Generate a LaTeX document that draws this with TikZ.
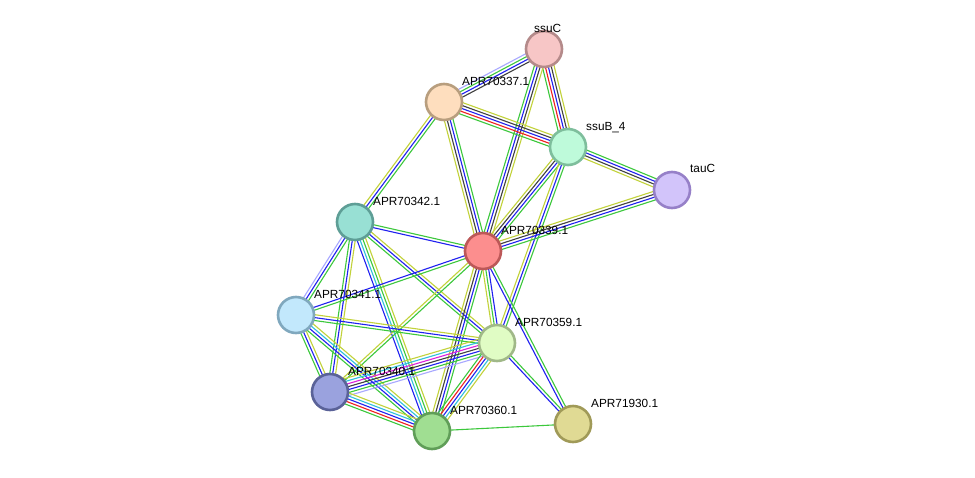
\documentclass[tikz,border=0pt]{standalone}
\usepackage{fontspec}
\setmainfont{Liberation Sans}
\usetikzlibrary{calc,backgrounds}
\definecolor{grn}{HTML}{3CC83C}
\definecolor{blu}{HTML}{2020F0}
\definecolor{blk}{HTML}{404040}
\definecolor{yel}{HTML}{C2D23A}
\definecolor{rdd}{HTML}{F02020}
\definecolor{cyn}{HTML}{30C0DC}
\definecolor{mag}{HTML}{DC20DC}
\definecolor{lav}{HTML}{A8A8FF}
\definecolor{fA}{RGB}{247,198,198}\definecolor{dA}{RGB}{180,138,138}
\definecolor{fB}{RGB}{254,222,190}\definecolor{dB}{RGB}{184,158,126}
\definecolor{fC}{RGB}{190,250,218}\definecolor{dC}{RGB}{126,190,156}
\definecolor{fD}{RGB}{210,196,250}\definecolor{dD}{RGB}{150,128,200}
\definecolor{fE}{RGB}{152,224,212}\definecolor{dE}{RGB}{94,158,150}
\definecolor{fF}{RGB}{252,142,142}\definecolor{dF}{RGB}{188,88,88}
\definecolor{fG}{RGB}{194,232,252}\definecolor{dG}{RGB}{128,168,190}
\definecolor{fH}{RGB}{224,252,196}\definecolor{dH}{RGB}{160,184,136}
\definecolor{fI}{RGB}{154,162,222}\definecolor{dI}{RGB}{90,98,152}
\definecolor{fJ}{RGB}{160,222,146}\definecolor{dJ}{RGB}{96,158,88}
\definecolor{fK}{RGB}{224,218,148}\definecolor{dK}{RGB}{160,154,88}
\newcommand\medge[3]{%
  \foreach \cc [count=\ii] in {#3} {\xdef\nnn{\ii}}%
  \foreach \cc [count=\ii] in {#3} {%
    \pgfmathsetmacro\off{(\ii-(\nnn+1)/2)*2.9}%
    \draw[\cc, line width=1.1pt] ($(#1)!\off pt!90:(#2)$) -- ($(#2)!\off pt!-90:(#1)$);
  }}
\tikzset{
  prot/.style={circle, minimum size=36pt, inner sep=0pt, line width=2.6pt},
  lbl/.style={anchor=base west, font=\fontsize{11.8}{14}\selectfont, text=black, inner sep=0pt}
}
\begin{document}
\begin{tikzpicture}[x=1pt,y=-1pt]
\useasboundingbox (0,0) rectangle (975,477);
\node[prot, fill=fA, draw=dA] (ssuC) at (544,49) {};
\node[prot, fill=fB, draw=dB] (p337) at (444,102) {};
\node[prot, fill=fC, draw=dC] (ssuB) at (568,147) {};
\node[prot, fill=fD, draw=dD] (tauC) at (672,190) {};
\node[prot, fill=fE, draw=dE] (p342) at (355,222) {};
\node[prot, fill=fF, draw=dF] (p339) at (483,251) {};
\node[prot, fill=fG, draw=dG] (p341) at (296,315) {};
\node[prot, fill=fH, draw=dH] (p359) at (497,343) {};
\node[prot, fill=fI, draw=dI] (p340) at (330,392) {};
\node[prot, fill=fJ, draw=dJ] (p360) at (432,431) {};
\node[prot, fill=fK, draw=dK] (p719) at (573,424) {};
\begin{pgfonlayer}{background}
\fill[white] (0,0) rectangle (975,477);
\medge{ssuC}{p337}{lav,grn,blu,blk}
\medge{ssuC}{ssuB}{grn,rdd,blu,blk,yel}
\medge{ssuC}{p339}{grn,blu,blk,yel}
\medge{p337}{ssuB}{grn,rdd,blu,blk,yel}
\medge{p337}{p339}{yel,blk,blu,grn}
\medge{p337}{p342}{yel,blu,grn}
\medge{ssuB}{tauC}{yel,blk,blu,grn}
\medge{ssuB}{p339}{yel,blk,blu,grn}
\medge{ssuB}{p359}{yel,blu,grn}
\medge{tauC}{p339}{yel,blk,blu,grn}
\medge{p342}{p339}{blu,grn}
\medge{p342}{p341}{lav,blu,grn}
\medge{p342}{p340}{grn,blu,yel}
\medge{p342}{p360}{blu,cyn,grn,yel}
\medge{p342}{p359}{grn,blu,yel}
\medge{p339}{p341}{blu,grn}
\medge{p339}{p340}{yel,grn}
\medge{p339}{p360}{yel,blk,blu,grn}
\medge{p339}{p359}{yel,grn,blu}
\medge{p339}{p719}{blu,grn}
\medge{p341}{p359}{grn,blu,yel}
\medge{p341}{p340}{grn,blu,yel}
\medge{p341}{p360}{grn,blu,cyn,yel}
\medge{p340}{p359}{lav,grn,blu,blk,mag,cyn,yel}
\medge{p340}{p360}{grn,rdd,blu,cyn,yel}
\medge{p360}{p359}{yel,cyn,blu,rdd,grn}
\medge{p359}{p719}{blu,grn}
\medge{p360}{p719}{grn}
\end{pgfonlayer}
\node[lbl] (lssuC) at (534,32) {ssuC};
\node[lbl] (l337) at (462,85) {APR70337.1};
\node[lbl] (lssuB) at (586,130) {ssuB\_4};
\node[lbl] (ltauC) at (690,172) {tauC};
\node[lbl] (l342) at (373,205) {APR70342.1};
\node[lbl] (l339) at (501,234) {APR70339.1};
\node[lbl] (l341) at (314,298) {APR70341.1};
\node[lbl] (l359) at (515,326) {APR70359.1};
\node[lbl] (l340) at (348,375) {APR70340.1};
\node[lbl] (l360) at (450,414) {APR70360.1};
\node[lbl] (l719) at (591,407) {APR71930.1};
\end{tikzpicture}
\end{document}
